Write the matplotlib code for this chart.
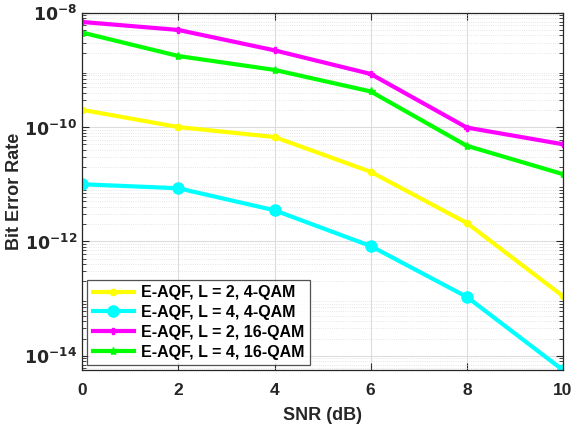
import numpy as np
import matplotlib
matplotlib.use('Agg')
import matplotlib.pyplot as plt
from matplotlib import rcParams
from matplotlib.ticker import LogLocator, NullFormatter

rcParams['font.family'] = ['Liberation Sans', 'DejaVu Sans']
rcParams['font.weight'] = 'bold'
rcParams['mathtext.default'] = 'bf'

snr_db = [0, 2, 4, 6, 8, 10]
ber_l2_4qam = [2.0e-10, 1.0e-10, 6.7e-11, 1.65e-11, 2.1e-12, 1.1e-13]
ber_l4_4qam = [1.0e-11, 8.5e-12, 3.5e-12, 8.3e-13, 1.07e-13, 5.6e-15]
ber_l2_16qam = [6.9e-9, 5.0e-9, 2.2e-9, 8.5e-10, 9.8e-11, 5.0e-11]
ber_l4_16qam = [4.5e-9, 1.75e-9, 1.0e-9, 4.2e-10, 4.7e-11, 1.5e-11]

labels = ['E-AQF, L = 2, 4-QAM', 'E-AQF, L = 4, 4-QAM',
          'E-AQF, L = 2, 16-QAM', 'E-AQF, L = 4, 16-QAM']

fig = plt.figure(figsize=(5.77, 4.25), dpi=100)
ax = fig.add_axes([0.1425, 0.1294, 0.8332, 0.8406])

ax.semilogy(snr_db, ber_l2_4qam, color='#ffff00', lw=3, marker='o', ms=4.5,
            label=labels[0])
ax.semilogy(snr_db, ber_l4_4qam, color='#00ffff', lw=3, marker='o', ms=8,
            label=labels[1])
ax.semilogy(snr_db, ber_l2_16qam, color='#ff00ff', lw=3, marker='P', ms=5,
            label=labels[2])
ax.semilogy(snr_db, ber_l4_16qam, color='#00ff00', lw=3, marker='*', ms=6,
            label=labels[3])

ax.set_xlim(0, 10)
ax.set_ylim(10**-14.25, 1e-8)
ax.set_xticks([0, 2, 4, 6, 8, 10])
ax.yaxis.set_minor_locator(LogLocator(base=10, subs=np.arange(2, 10), numticks=20))
ax.yaxis.set_minor_formatter(NullFormatter())
ax.set_yticks([1e-14, 1e-12, 1e-10, 1e-8])
ax.set_yticklabels([r'$10^{-14}$', r'$10^{-12}$', r'$10^{-10}$', r'$10^{-8}$'])

ax.grid(True, which='major', color='#dcdcdc', lw=0.8)
ax.grid(True, which='minor', color='#dedede', lw=0.6, ls=':')
ax.set_axisbelow(True)

ax.tick_params(axis='both', which='both', direction='in', top=True, right=True,
               labelsize=12.5, colors='#262626')
ax.tick_params(axis='x', pad=9)
ax.tick_params(which='major', length=5)
ax.tick_params(which='minor', length=3)
for sp in ax.spines.values():
    sp.set_color('#262626')
    sp.set_linewidth(0.9)

ax.set_xlabel('SNR (dB)', fontsize=13, fontweight='bold', color='#262626', labelpad=7)
ax.set_ylabel('Bit Error Rate', fontsize=13, fontweight='bold', color='#262626', labelpad=1)

leg = ax.legend(loc='lower left', fontsize=11.5, frameon=True, fancybox=False,
                edgecolor='#262626', borderaxespad=0.3, handlelength=2.6,
                handletextpad=0.4, borderpad=0.35, labelspacing=0.3)
leg.get_frame().set_linewidth(0.9)
for t in leg.get_texts():
    t.set_fontweight('bold')

fig.savefig('out.png', dpi=100)
